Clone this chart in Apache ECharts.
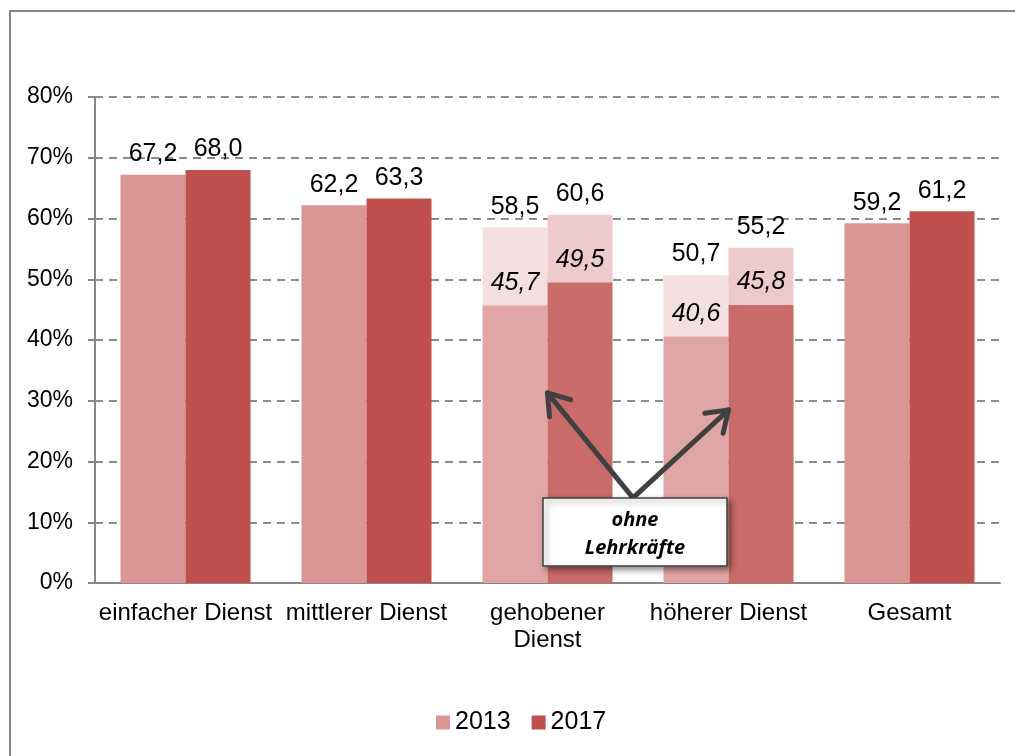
<!DOCTYPE html>
<html>
<head>
<meta charset="utf-8">
<script src="https://cdn.jsdelivr.net/npm/echarts@6/dist/echarts.min.js"></script>
<style>
    html, body { margin: 0; padding: 0; background: #fff; }
    #chart { width: 1015px; height: 756px; }
</style>
</head>
<body>
<div id="chart"></div>
<script>
    // Werte aus der Vorlage (Anteile in %)
    const categories = ['einfacher Dienst', 'mittlerer Dienst', 'gehobener\nDienst', 'höherer Dienst', 'Gesamt'];
    const total2013 = [67.2, 62.2, 58.5, 50.7, 59.2];
    const total2017 = [68.0, 63.3, 60.6, 55.2, 61.2];
    // ohne Lehrkräfte (nur gehobener und höherer Dienst)
    const ohne2013 = [null, null, 45.7, 40.6, null];
    const ohne2017 = [null, null, 49.5, 45.8, null];
    const yTicks = [0, 10, 20, 30, 40, 50, 60, 70, 80];

    const fmt = v => v.toFixed(1).replace('.', ',');
    const labelFont = { fontFamily: 'Liberation Sans, Arial, sans-serif', fontSize: 25, color: '#000' };

    function buildSeries (name, totals, ohne, colors) {
        const base = totals.map((t, i) => {
            if (ohne[i] == null) {
                return {
                    value: t,
                    itemStyle: { color: colors.main },
                    label: { show: true, position: 'top', distance: 8, formatter: fmt(t), ...labelFont }
                };
            }
            return {
                value: ohne[i],
                itemStyle: { color: colors.lower },
                label: { show: true, position: 'top', distance: 10, formatter: fmt(ohne[i]), ...labelFont, fontStyle: 'italic' }
            };
        });
        const top = totals.map((t, i) => {
            if (ohne[i] == null) return '-';
            return {
                value: +(t - ohne[i]).toFixed(1),
                itemStyle: { color: colors.upper },
                label: { show: true, position: 'top', distance: 8, formatter: fmt(t), ...labelFont }
            };
        });
        return [
            { name: name, type: 'bar', stack: name, barWidth: 65, barGap: '0%', data: base, z: 2 },
            { name: name + ' gesamt', type: 'bar', stack: name, barWidth: 65, barGap: '0%', data: top, z: 2 }
        ];
    }

    const chart = echarts.init(document.getElementById('chart'));
    chart.setOption({
        animation: false,
        color: ['#D99694', '#F4E0E0', '#C0504D', '#EDCACC'],
        grid: { left: 95, right: 15, top: 97, bottom: 173 },
        legend: {
            data: ['2013', '2017'],
            bottom: 16,
            left: 431,
            itemWidth: 14,
            itemHeight: 14,
            itemGap: 21,
            icon: 'rect',
            textStyle: { fontFamily: 'Liberation Sans, Arial, sans-serif', fontSize: 25, color: '#000' }
        },
        xAxis: {
            type: 'category',
            data: categories,
            axisLine: { lineStyle: { color: '#868686', width: 2 } },
            axisTick: { show: false },
            axisLabel: {
                interval: 0,
                margin: 17,
                lineHeight: 27,
                fontFamily: 'Liberation Sans, Arial, sans-serif',
                fontSize: 24,
                color: '#000'
            }
        },
        yAxis: {
            type: 'value',
            min: yTicks[0],
            max: yTicks[yTicks.length - 1],
            interval: 10,
            axisLine: { show: true, lineStyle: { color: '#868686', width: 2 } },
            axisTick: { show: true, length: 7, lineStyle: { color: '#868686', width: 2 } },
            axisLabel: {
                formatter: '{value}%',
                margin: 22,
                fontFamily: 'Liberation Sans, Arial, sans-serif',
                fontSize: 23,
                color: '#000'
            },
            splitLine: { show: true, lineStyle: { color: '#8c8c8c', width: 2, type: [8, 6] } }
        },
        series: [
            ...buildSeries('2013', total2013, ohne2013, { main: '#D99694', lower: '#E0A6A5', upper: '#F4E0E0' }),
            ...buildSeries('2017', total2017, ohne2017, { main: '#C0504D', lower: '#C96B69', upper: '#EDCACC' })
        ]
    });

    // Annotation "ohne Lehrkräfte" mit Pfeilen, an Achsen verankert
    const p = (c, v) => chart.convertToPixel({ seriesIndex: 0 }, [c, v]);
    const tipL = p(2, 31.3);
    const tipR = p(3, 28.5);
    const baseMid = p(2, 14);
    const baseX = (p(2, 0)[0] + p(3, 0)[0]) / 2 - 5;
    const base = [baseX, baseMid[1]];

    function arrowHead (from, to, len) {
        const a = Math.atan2(to[1] - from[1], to[0] - from[0]);
        const s = 0.6;
        return [
            [to[0] - len * Math.cos(a - s), to[1] - len * Math.sin(a - s)],
            to,
            [to[0] - len * Math.cos(a + s), to[1] - len * Math.sin(a + s)]
        ];
    }
    const arrowStyle = { stroke: '#404040', lineWidth: 5, lineCap: 'round', lineJoin: 'round', fill: null };

    chart.setOption({
        graphic: [
            { type: 'rect', shape: { x: 10, y: 11, width: 1100, height: 800 }, style: { fill: null, stroke: '#868686', lineWidth: 2 }, silent: true, z: 0 },
            { type: 'line', shape: { x1: base[0], y1: base[1], x2: tipL[0], y2: tipL[1] }, style: arrowStyle, z: 50 },
            { type: 'polyline', shape: { points: arrowHead(base, tipL, 24) }, style: arrowStyle, z: 50 },
            { type: 'line', shape: { x1: base[0], y1: base[1], x2: tipR[0], y2: tipR[1] }, style: arrowStyle, z: 50 },
            { type: 'polyline', shape: { points: arrowHead(base, tipR, 24) }, style: arrowStyle, z: 50 },
            {
                type: 'rect',
                shape: { x: 543, y: 498, width: 184, height: 68 },
                style: { fill: '#fff', stroke: '#404040', lineWidth: 1.5, shadowBlur: 6, shadowOffsetX: 3, shadowOffsetY: 3, shadowColor: 'rgba(0,0,0,0.45)' },
                z: 60
            },
            {
                type: 'text',
                x: 635, y: 534,
                style: {
                    text: 'ohne\nLehrkräfte',
                    align: 'center',
                    verticalAlign: 'middle',
                    fontFamily: 'Open Sans, Lato, sans-serif',
                    fontSize: 20,
                    fontWeight: 'bold',
                    fontStyle: 'italic',
                    lineHeight: 28,
                    fill: '#000'
                },
                z: 61
            }
        ]
    });
</script>
</body>
</html>
